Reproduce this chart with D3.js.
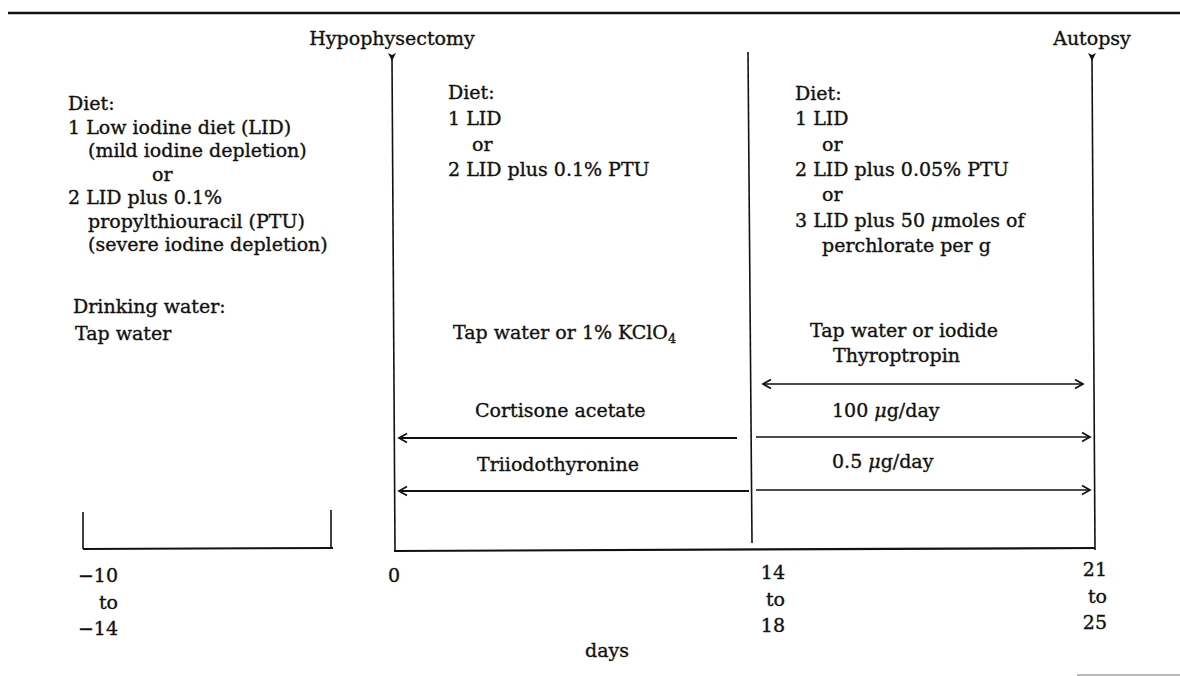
<!DOCTYPE html>
<html>
<head>
<meta charset="utf-8">
<script src="https://cdn.jsdelivr.net/npm/d3@7"></script>
<style>
  body { margin: 0; background: #fff; }
  svg text { font-family: "DejaVu Serif", serif; font-size: 19px; fill: #111; stroke: #111; stroke-width: 0.35px; }
  svg text .mu { font-style: italic; }
</style>
</head>
<body>
<div class="graph"></div>
<script>
// Timeline stages (day labels under the axis)
var stages = ["−10 to −14", "0", "14 to 18", "21 to 25"];
var stageLabels = [["−10", "to", "−14"], ["0"], ["14", "to", "18"], ["21", "to", "25"]];

// Events marked with an arrow on top of a vertical line
var events = [
    {name: "Hypophysectomy", stage: "0"},
    {name: "Autopsy", stage: "21 to 25"}
];

// Diet blocks, one per period
var dietPre = ["Diet:", "1 Low iodine diet (LID)", "(mild iodine depletion)", "or",
    "2 LID plus 0.1%", "propylthiouracil (PTU)", "(severe iodine depletion)"];
var dietMid = ["Diet:", "1 LID", "or", "2 LID plus 0.1% PTU"];
var dietPost = ["Diet:", "1 LID", "or", "2 LID plus 0.05% PTU", "or",
    "3 LID plus 50 μmoles of", "perchlorate per g"];

// Drinking water per period
var waterPre = ["Drinking water:", "Tap water"];
var waterMid = "Tap water or 1% KClO";
var waterPost = ["Tap water or iodide", "Thyroptropin"];

// Injected treatments: given from day 0 to 14 and from 14 to 21
var treatments = ["Cortisone acetate", "Triiodothyronine"];
var doses = ["100 μg/day", "0.5 μg/day"];

var width = 1180,
    height = 676,
    ink = "#111";

// stage -> x of its vertical line
var x = d3.scaleOrdinal()
    .domain(stages)
    .range([83, 394, 751, 1094]);

// right edge of the stage labels
var xLabel = d3.scaleOrdinal()
    .domain(stages)
    .range([118, 400, 785, 1107]);

var axisY = 550;

var svg = d3.select('.graph').append("svg")
    .attr("width", width)
    .attr("height", height)
    .style("display", "block");

var defs = svg.append("defs");
defs.append("marker")
    .attr("id", "head")
    .attr("viewBox", "-10 -6 12 12")
    .attr("refX", 0).attr("refY", 0)
    .attr("markerWidth", 12).attr("markerHeight", 12)
    .attr("markerUnits", "userSpaceOnUse")
    .attr("orient", "auto-start-reverse")
    .append("path")
    .attr("d", "M-8,-4.5L0,0L-8,4.5")
    .attr("fill", "none")
    .attr("stroke", ink)
    .attr("stroke-width", 1.7);

function line(x1, y1, x2, y2, w) {
    return svg.append("line")
        .attr("x1", x1).attr("y1", y1)
        .attr("x2", x2).attr("y2", y2)
        .attr("stroke", ink)
        .attr("stroke-width", w || 1.6);
}

// writes a string, setting the Greek mu in italics
function addText(sel, t) {
    t.split(/(μ)/).forEach(function(part) {
        if (!part) return;
        var ts = sel.append("tspan").text(part);
        if (part === "μ") ts.attr("class", "mu");
    });
    return sel;
}

function textBlock(lines, x0, y0, step, indents) {
    lines.forEach(function(t, i) {
        addText(svg.append("text")
            .attr("x", x0 + (indents ? indents[i] : 0))
            .attr("y", y0 + i * step), t);
    });
}

// top rule and the stray rule at the bottom right
line(8, 13, width, 13, 2.6);
line(1077, 675, width, 675, 1.2).attr("stroke", "#777");

// pre-treatment bracket
var pre = stages[0];
line(x(pre), 512, x(pre), axisY - 1);
line(331, 510, 331, axisY - 2);
line(x(pre), axisY - 1, 333, axisY - 2, 2);

// main axis
line(x(stages[1]), axisY + 1, x(stages[3]) + 1, axisY - 2, 2.2);

// period boundary at day 14
line(x(stages[2]) - 3, 52, x(stages[2]) + 1, axisY - 7);

// events: vertical line with a small arrowhead and a label
events.forEach(function(e) {
    var cx = x(e.stage);
    line(cx - 2, 58, cx + 1, axisY);
    svg.append("path")
        .attr("d", "M" + (cx - 6) + ",53L" + (cx - 2) + ",55L" + (cx + 2) + ",53L" + (cx - 2) + ",61Z")
        .attr("fill", ink);
    svg.append("text")
        .attr("x", cx - 2)
        .attr("y", 45)
        .attr("text-anchor", "middle")
        .text(e.name);
});

// stage labels
stages.forEach(function(s, i) {
    stageLabels[i].forEach(function(t, j) {
        svg.append("text")
            .attr("x", xLabel(s))
            .attr("y", 582 - (i > 1 ? (i - 1) * 3 : 0) + j * 26.5)
            .attr("text-anchor", "end")
            .text(t);
    });
});
svg.append("text").attr("x", 585).attr("y", 657).text("days");

// diet blocks
textBlock(dietPre, 68, 110, 23.5, [0, 0, 20, 84, 0, 20, 20]);
textBlock(dietMid, 448, 99, 25.8, [0, 0, 24, 0]);
textBlock(dietPost, 795, 100, 25.3, [0, 0, 27, 0, 27, 0, 27]);

// drinking water
textBlock(waterPre, 73, 313, 27, [0, 2]);
svg.append("text")
    .attr("x", 453).attr("y", 339)
    .text(waterMid)
    .append("tspan")
    .attr("dy", 4)
    .style("font-size", "13px")
    .text("4");
textBlock(waterPost, 810, 337, 25, [0, 23]);

// thyroptropin: double arrow over days 14 to 21
line(x(stages[2]) + 12, 384, x(stages[3]) - 11, 384, 1.5)
    .attr("marker-start", "url(#head)")
    .attr("marker-end", "url(#head)");

// treatments: left arrow back to day 0, right arrow on to day 21
var rowY = [437, 490],
    leftGap = [14, 2];
treatments.forEach(function(t, i) {
    var y = rowY[i];
    svg.append("text")
        .attr("x", (i === 0 ? 475 : 477))
        .attr("y", y - 20 - (i === 1 ? -1 : 0))
        .text(t);
    line(x(stages[2]) - leftGap[i], y + 1, x(stages[1]) + 5, y + 1, 1.9)
        .attr("marker-end", "url(#head)");
    line(x(stages[2]) + 5, y, x(stages[3]) - 4, y, 1.7)
        .attr("marker-end", "url(#head)");
    addText(svg.append("text")
        .attr("x", 832)
        .attr("y", y - 20 - (i === 1 ? 2 : 0)), doses[i]);
});
</script>
</body>
</html>
